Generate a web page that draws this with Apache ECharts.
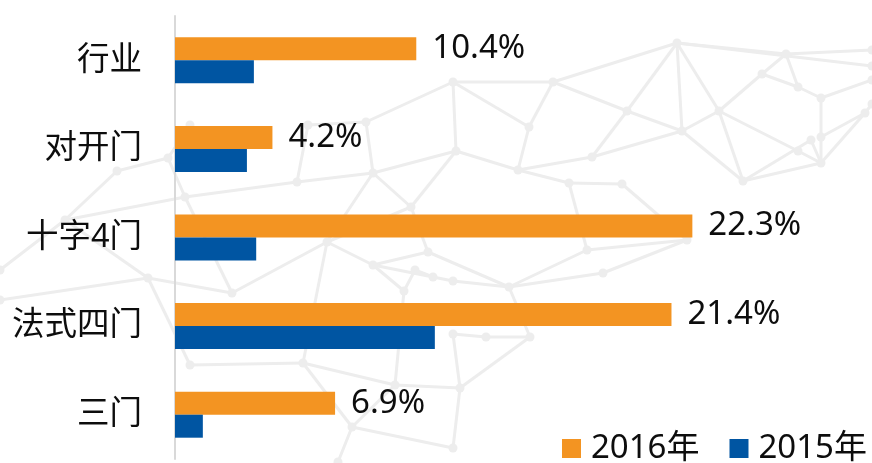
<!DOCTYPE html>
<html>
<head>
<meta charset="utf-8">
<script src="https://cdn.jsdelivr.net/npm/echarts@6/dist/echarts.min.js"></script>
<style>
  html, body { margin: 0; padding: 0; background: #ffffff; }
  #chart { width: 872px; height: 463px; }
</style>
</head>
<body>
<div id="chart"></div>
<script>
// Door-style categories, top to bottom
const categories = ['行业', '对开门', '十字4门', '法式四门', '三门'];
const seriesNames = ['2016年', '2015年'];
// Share values in percent
const values2016 = [10.4, 4.2, 22.3, 21.4, 6.9];
const values2015 = [3.4, 3.1, 3.5, 11.2, 1.2];

const FONT = '"Noto Sans", "Noto Sans CJK SC", sans-serif';

// Decorative network backdrop: nodes and the edges joining them
const meshNodes = [
  [65,220],[117,171],[168,158],[190,125],[185,197],[148,278],[232,293],[190,365],[297,182],[308,125],
  [366,122],[373,173],[411,207],[453,82],[553,82],[529,127],[456,151],[518,170],[569,183],[622,184],
  [592,157],[627,111],[682,131],[677,43],[786,54],[762,74],[798,87],[821,98],[719,111],[743,181],
  [798,151],[811,140],[821,137],[821,163],[865,113],[327,242],[373,265],[415,270],[428,252],[433,277],
  [453,281],[404,291],[509,287],[486,337],[530,337],[453,334],[303,363],[395,385],[460,388],[352,427],
  [453,448],[338,462],[587,250],[603,273],[687,240],[872,50],[872,66],[872,80],[872,104],[0,270],[0,300]
];
const meshEdges = [
  [0,1],[1,2],[2,3],[0,4],[4,8],[0,5],[5,6],[5,7],[2,4],[4,6],[7,46],[8,9],[9,10],[10,13],[10,11],
  [11,16],[13,14],[13,15],[14,15],[15,17],[13,16],[16,17],[16,12],[12,11],[14,23],[14,21],[17,18],
  [18,19],[17,20],[20,22],[20,21],[21,23],[21,22],[22,23],[22,28],[23,28],[23,24],[24,25],[25,28],
  [24,26],[25,26],[26,27],[27,32],[32,33],[28,29],[28,30],[22,29],[29,33],[29,31],[30,33],[31,33],
  [32,34],[33,34],[24,55],[23,56],[27,57],[34,58],[8,11],[11,35],[12,35],[35,36],[36,38],[36,39],
  [39,40],[38,42],[36,41],[41,37],[37,39],[42,52],[42,53],[53,54],[52,54],[42,40],[43,44],[45,43],
  [42,44],[44,48],[45,48],[46,47],[47,48],[47,49],[48,50],[49,50],[49,51],[46,49],[35,46],[59,0],
  [60,5],[6,35],[18,52],[19,54],[38,12],[41,47]
];

const meshGraphics = [];
meshEdges.forEach(([a, b]) => {
  meshGraphics.push({
    type: 'line', silent: true, z: -10,
    shape: { x1: meshNodes[a][0], y1: meshNodes[a][1], x2: meshNodes[b][0], y2: meshNodes[b][1] },
    style: { stroke: '#ededed', lineWidth: 3 }
  });
});
meshNodes.forEach(([x, y]) => {
  meshGraphics.push({
    type: 'circle', silent: true, z: -10,
    shape: { cx: x, cy: y, r: 4.5 },
    style: { fill: '#ededed' }
  });
});

const chart = echarts.init(document.getElementById('chart'), null, { renderer: 'canvas' });

chart.setOption({
  backgroundColor: '#ffffff',
  animation: false,
  color: ['#f39422', '#0055a2'],
  graphic: meshGraphics,
  grid: { left: 175, top: 16, width: 580, height: 443, containLabel: false },
  legend: {
    data: seriesNames,
    top: 432,
    right: 5,
    padding: 0,
    icon: 'rect',
    itemWidth: 19,
    itemHeight: 19,
    itemGap: 30,
    textStyle: { fontFamily: FONT, fontSize: 33, color: '#0d0d0d', padding: [0, 0, 0, 5] }
  },
  xAxis: {
    type: 'value',
    min: 0,
    max: 25,
    show: false,
    splitLine: { show: false }
  },
  yAxis: {
    type: 'category',
    data: categories,
    inverse: true,
    axisLine: { show: true, lineStyle: { color: '#d9d9d9', width: 2 } },
    axisTick: { show: false },
    axisLabel: { fontFamily: FONT, fontSize: 32.5, color: '#0d0d0d', margin: 33 }
  },
  series: [
    {
      name: seriesNames[0],
      type: 'bar',
      data: values2016,
      barWidth: 23,
      barGap: '0%',
      label: {
        show: true,
        position: 'right',
        distance: 16,
        formatter: p => p.value.toFixed(1) + '%',
        fontFamily: FONT,
        fontSize: 33,
        color: '#0d0d0d'
      }
    },
    {
      name: seriesNames[1],
      type: 'bar',
      data: values2015,
      barWidth: 23,
      barGap: '0%'
    }
  ]
});
</script>
</body>
</html>
